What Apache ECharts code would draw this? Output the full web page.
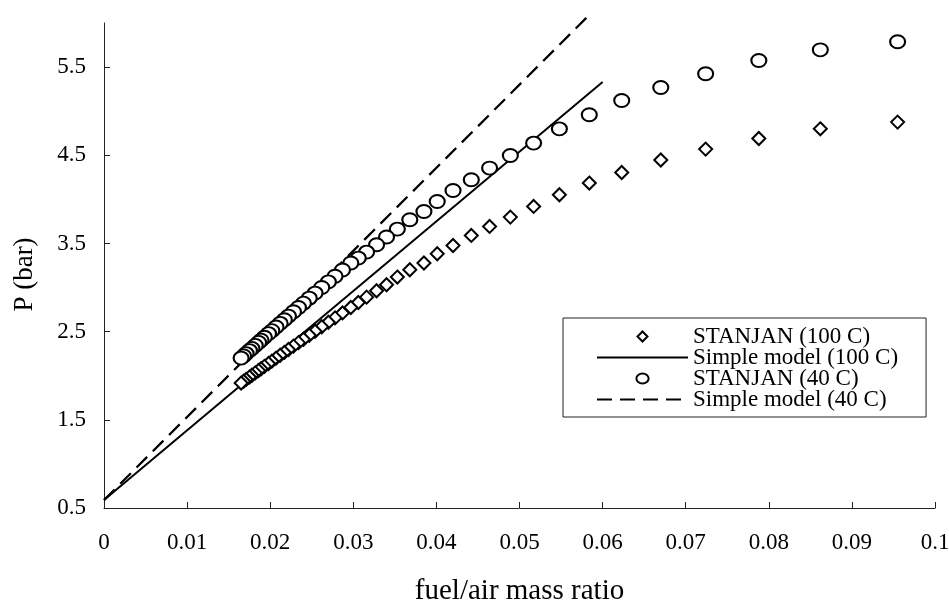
<!DOCTYPE html>
<html>
<head>
<meta charset="utf-8">
<script src="https://cdn.jsdelivr.net/npm/echarts@6/dist/echarts.min.js"></script>
<style>
html,body{margin:0;padding:0;background:#fff;}
#chart{width:949px;height:603px;}
</style>
</head>
<body>
<div id="chart"></div>
<script>
// fuel/air mass ratio of the STANJAN points (high to low)
const fuelAir = [0.0955,0.0862,0.0788,0.0724,0.0670,0.0623,0.0584,0.0548,0.0517,0.0489,
  0.0464,0.0442,0.0420,0.0401,0.0385,0.0368,0.0353,0.0340,0.0328,0.0316,
  0.0306,0.0297,0.0287,0.0278,0.0270,0.0262,0.0254,0.0247,0.0240,0.0234,
  0.0228,0.0222,0.0217,0.0212,0.0207,0.0202,0.0198,0.0193,0.0189,0.0186,
  0.0182,0.0178,0.0175,0.0171,0.0168,0.0165];
// STANJAN (100 C) pressure, bar
const pStanjan100 = [4.876,4.800,4.690,4.570,4.446,4.305,4.185,4.052,3.920,3.799,
  3.693,3.591,3.477,3.383,3.278,3.202,3.119,3.032,2.964,2.891,
  2.830,2.774,2.712,2.656,2.606,2.555,2.504,2.459,2.414,2.375,
  2.336,2.297,2.264,2.232,2.199,2.165,2.139,2.106,2.079,2.059,
  2.032,2.005,1.985,1.958,1.937,1.917];
// STANJAN (40 C) pressure, bar
const pStanjan40 = [5.787,5.696,5.575,5.424,5.269,5.121,4.959,4.800,4.638,4.498,
  4.355,4.222,4.101,3.976,3.863,3.769,3.663,3.573,3.485,3.402,
  3.334,3.278,3.199,3.128,3.065,3.001,2.937,2.880,2.823,2.774,
  2.725,2.676,2.635,2.594,2.552,2.511,2.478,2.436,2.403,2.378,
  2.344,2.310,2.285,2.251,2.225,2.200];
// Simple model lines
const model100X = [0, 0.06];
const model100P = [0.59, 5.33];
const model40X = [0, 0.0587];
const model40P = [0.59, 6.12];
// axis ticks
const yTicks = [0.5, 1.5, 2.5, 3.5, 4.5, 5.5];

const FONT = 'Liberation Serif';
const zip = (xs, ys) => xs.map((x, i) => [x, ys[i]]);

const chart = echarts.init(document.getElementById('chart'));
chart.setOption({
  animation: false,
  backgroundColor: '#fff',
  grid: {left: 104, right: 14, top: 23, bottom: 95, containLabel: false, outerBoundsMode: 'none'},
  xAxis: {
    type: 'value', min: 0, max: 0.1, interval: 0.01,
    name: 'fuel/air mass ratio', nameLocation: 'middle', nameGap: 69,
    nameTextStyle: {fontFamily: FONT, fontSize: 29, color: '#000'},
    axisLine: {show: true, lineStyle: {color: '#222', width: 1}},
    axisTick: {show: true, inside: true, length: 6, lineStyle: {color: '#222'}},
    axisLabel: {fontFamily: FONT, fontSize: 23, color: '#000', margin: 23},
    splitLine: {show: false}
  },
  yAxis: {
    type: 'value', min: 0.5, max: 6.0,
    name: 'P (bar)', nameLocation: 'middle', nameGap: 66,
    nameTextStyle: {fontFamily: FONT, fontSize: 27, color: '#000', padding: [0, 18, 0, 0]},
    axisLine: {show: true, lineStyle: {color: '#222', width: 1}},
    axisTick: {show: true, inside: true, length: 6, lineStyle: {color: '#222'}, customValues: yTicks},
    axisLabel: {fontFamily: FONT, fontSize: 23, color: '#000', margin: 18, customValues: yTicks},
    splitLine: {show: false}
  },
  legend: {
    orient: 'vertical', left: 563, top: 318,
    padding: [7, 28, 6, 33],
    itemWidth: 91, itemHeight: 10, itemGap: -2,
    borderColor: '#222', borderWidth: 1,
    backgroundColor: '#fff',
    textStyle: {fontFamily: FONT, fontSize: 23, color: '#000'},
    data: [
      {name: 'STANJAN (100 C)', icon: 'path://M5,0L10,5L5,10L0,5Z'},
      {name: 'Simple model (100 C)'},
      {name: 'STANJAN (40 C)', icon: 'path://M5.5,0A5.5,4.5,0,1,1,5.5,9A5.5,4.5,0,1,1,5.5,0Z'},
      {name: 'Simple model (40 C)'}
    ]
  },
  series: [
    {
      name: 'STANJAN (100 C)', type: 'scatter', z: 3,
      symbol: 'diamond', symbolSize: 13,
      itemStyle: {color: '#fff', borderColor: '#000', borderWidth: 2, opacity: 1},
      data: zip(fuelAir, pStanjan100)
    },
    {
      name: 'Simple model (100 C)', type: 'line', z: 1,
      symbol: 'none', clip: false,
      lineStyle: {color: '#000', width: 2},
      itemStyle: {color: '#000', opacity: 0},
      data: zip(model100X, model100P)
    },
    {
      name: 'STANJAN (40 C)', type: 'scatter', z: 3,
      symbol: 'circle', symbolSize: [15, 13],
      itemStyle: {color: '#fff', borderColor: '#000', borderWidth: 2, opacity: 1},
      data: zip(fuelAir, pStanjan40)
    },
    {
      name: 'Simple model (40 C)', type: 'line', z: 1,
      symbol: 'none', clip: false,
      lineStyle: {color: '#000', width: 2.3, type: [15, 8]},
      itemStyle: {color: '#000', opacity: 0},
      data: zip(model40X, model40P)
    }
  ]
});
</script>
</body>
</html>
